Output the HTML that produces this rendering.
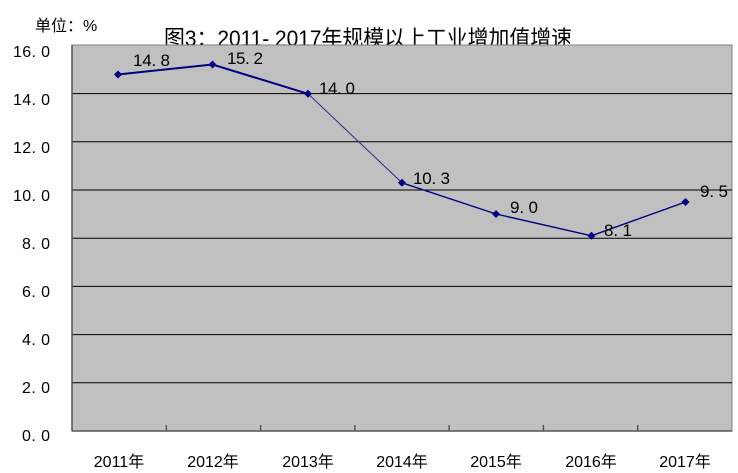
<!DOCTYPE html>
<html><head><meta charset="utf-8"><style>
html,body{margin:0;padding:0;background:#fff;width:738px;height:473px;overflow:hidden}
svg{display:block}
text{font-family:"Liberation Sans","Noto Sans CJK SC",sans-serif;fill:#000}
</style></head><body>
<svg width="738" height="473" viewBox="0 0 738 473" xmlns="http://www.w3.org/2000/svg">
<rect x="0" y="0" width="738" height="473" fill="#fff"/>
<text x="35" y="31" font-size="16">单位：%</text>
<text x="164" y="46" font-size="22" textLength="408" lengthAdjust="spacingAndGlyphs">图3：2011- 2017年规模以上工业增加值增速</text>
<rect x="72" y="45" width="660" height="386" fill="#c0c0c0" stroke="#808080" stroke-width="1"/>
<g stroke="#000" stroke-width="1">
<line x1="72" y1="93.6" x2="732" y2="93.6"/>
<line x1="72" y1="141.8" x2="732" y2="141.8"/>
<line x1="72" y1="190" x2="732" y2="190"/>
<line x1="72" y1="238.2" x2="732" y2="238.2"/>
<line x1="72" y1="286.4" x2="732" y2="286.4"/>
<line x1="72" y1="334.6" x2="732" y2="334.6"/>
<line x1="72" y1="382.8" x2="732" y2="382.8"/>
</g>
<g stroke="#555" stroke-width="1.5">
<line x1="72" y1="45" x2="72" y2="431"/>
<line x1="72" y1="431" x2="732" y2="431"/>
<line x1="166.3" y1="425" x2="166.3" y2="431"/>
<line x1="260.6" y1="425" x2="260.6" y2="431"/>
<line x1="354.9" y1="425" x2="354.9" y2="431"/>
<line x1="449.1" y1="425" x2="449.1" y2="431"/>
<line x1="543.4" y1="425" x2="543.4" y2="431"/>
<line x1="637.7" y1="425" x2="637.7" y2="431"/>
</g>
<g font-size="16" text-anchor="end">
<text x="50" y="57" textLength="37">16. 0</text>
<text x="50" y="105" textLength="37">14. 0</text>
<text x="50" y="153" textLength="37">12. 0</text>
<text x="50" y="201" textLength="37">10. 0</text>
<text x="50" y="249" textLength="28">8. 0</text>
<text x="50" y="297" textLength="28">6. 0</text>
<text x="50" y="345" textLength="28">4. 0</text>
<text x="50" y="393" textLength="28">2. 0</text>
<text x="50" y="441" textLength="28">0. 0</text>
</g>
<g font-size="16" text-anchor="middle">
<text x="119" y="467">2011年</text>
<text x="213" y="467">2012年</text>
<text x="308" y="467">2013年</text>
<text x="402" y="467">2014年</text>
<text x="496" y="467">2015年</text>
<text x="591" y="467">2016年</text>
<text x="685" y="467">2017年</text>
</g>
<g fill="none" stroke="#000080">
<polyline points="118,74.5 212.5,64.5 308,93.8" stroke-width="2"/>
<line x1="308" y1="93.8" x2="402" y2="182.8" stroke-width="1" stroke="#2a2a90"/>
<polyline points="402,182.8 496,214 591.5,235.8 685.5,202" stroke-width="1.4"/>
</g>
<g fill="#000080">
<polygon points="118,70.5 122,74.5 118,78.5 114,74.5"/>
<polygon points="212.5,60.5 216.5,64.5 212.5,68.5 208.5,64.5"/>
<polygon points="308,89.8 312,93.8 308,97.8 304,93.8"/>
<polygon points="402,178.8 406,182.8 402,186.8 398,182.8"/>
<polygon points="496,210 500,214 496,218 492,214"/>
<polygon points="591.5,231.8 595.5,235.8 591.5,239.8 587.5,235.8"/>
<polygon points="685.5,198 689.5,202 685.5,206 681.5,202"/>
</g>
<g font-size="17">
<text x="133" y="66" textLength="37">14. 8</text>
<text x="227" y="64" textLength="36">15. 2</text>
<text x="319" y="94" textLength="36">14. 0</text>
<text x="413" y="184" textLength="37">10. 3</text>
<text x="510" y="213" textLength="28">9. 0</text>
<text x="604" y="236" textLength="28">8. 1</text>
<text x="700" y="197" textLength="28">9. 5</text>
</g>
</svg>
</body></html>
